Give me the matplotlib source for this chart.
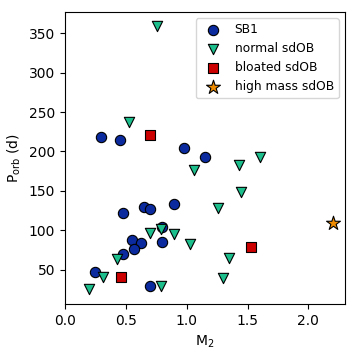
import matplotlib
matplotlib.use("Agg")
import matplotlib.pyplot as plt

sb1_m = [0.30, 0.45, 0.98, 1.15, 0.475, 0.65, 0.70, 0.90, 0.80, 0.55, 0.625, 0.57, 0.80, 0.48, 0.25, 0.70]
sb1_p = [218, 215, 204, 193, 122, 129, 127, 133, 104, 87, 84, 76, 85, 70, 47, 29]

norm_m = [0.76, 0.53, 1.06, 1.43, 1.60, 1.45, 1.26, 0.70, 0.785, 0.90, 1.03, 0.425, 1.35, 0.31, 1.30, 0.79, 0.195]
norm_p = [360, 237, 177, 183, 193, 149, 128, 97, 101, 95, 82, 63, 65, 41, 39, 29, 25]

bloat_m = [0.70, 1.53, 0.46]
bloat_p = [221, 79, 41]

high_m = [2.20]
high_p = [109]

fig, ax = plt.subplots(figsize=(3.57, 3.57), dpi=100)
ax.scatter(sb1_m, sb1_p, s=55, marker='o', color='#0a2a9e', edgecolor='black', linewidth=0.8, label='SB1', zorder=3)
ax.scatter(norm_m, norm_p, s=55, marker='v', color='#1cbf8c', edgecolor='black', linewidth=0.8, label='normal sdOB', zorder=3)
ax.scatter(bloat_m, bloat_p, s=55, marker='s', color='#cc0000', edgecolor='black', linewidth=0.8, label='bloated sdOB', zorder=3)
ax.scatter(high_m, high_p, s=110, marker='*', color='#f08c00', edgecolor='black', linewidth=0.8, label='high mass sdOB', zorder=3)

ax.set_xlim(0, 2.3)
ax.set_ylim(6, 377)
ax.set_xticks([0.0, 0.5, 1.0, 1.5, 2.0])
ax.set_yticks([50, 100, 150, 200, 250, 300, 350])
ax.set_xlabel(r'M$_2$')
ax.set_ylabel(r'P$_{\rm orb}$ (d)')
ax.legend(loc='upper right', fontsize=8.8)
fig.subplots_adjust(left=0.182, right=0.966, top=0.966, bottom=0.148)
fig.savefig('out.png')
